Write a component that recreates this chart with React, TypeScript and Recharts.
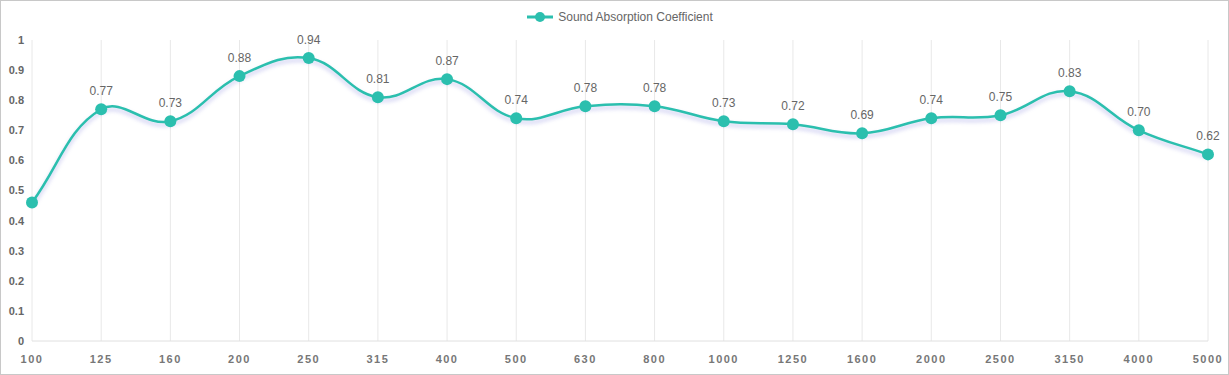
import React from 'react';
import { LineChart, Line, XAxis, YAxis, CartesianGrid, Legend, LabelList } from 'recharts';

const frequencies = ['100','125','160','200','250','315','400','500','630','800','1000','1250','1600','2000','2500','3150','4000','5000'];
const coefficients = [0.46,0.77,0.73,0.88,0.94,0.81,0.87,0.74,0.78,0.78,0.73,0.72,0.69,0.74,0.75,0.83,0.70,0.62];
const yTicks = [0,0.1,0.2,0.3,0.4,0.5,0.6,0.7,0.8,0.9,1];
const seriesName = 'Sound Absorption Coefficient';

const data = frequencies.map((f, i) => ({ freq: f, value: coefficients[i] }));

const COLOR = '#2bbfae';

// Chart.js style spline with tension 0.4
function tensionCurve(context: any) {
  let pts: number[][] = [];
  const t = 0.4;
  return {
    areaStart() {},
    areaEnd() {},
    lineStart() { pts = []; },
    point(x: number, y: number) { pts.push([+x, +y]); },
    lineEnd() {
      const n = pts.length;
      if (!n) return;
      const cps: number[][] = pts.map((cur, i) => {
        const prev = pts[Math.max(0, i - 1)];
        const next = pts[Math.min(n - 1, i + 1)];
        const d01 = Math.hypot(cur[0] - prev[0], cur[1] - prev[1]);
        const d12 = Math.hypot(next[0] - cur[0], next[1] - cur[1]);
        let s01 = d01 / (d01 + d12);
        let s12 = d12 / (d01 + d12);
        if (!isFinite(s01)) s01 = 0;
        if (!isFinite(s12)) s12 = 0;
        const fa = t * s01;
        const fb = t * s12;
        return [
          cur[0] - fa * (next[0] - prev[0]), cur[1] - fa * (next[1] - prev[1]),
          cur[0] + fb * (next[0] - prev[0]), cur[1] + fb * (next[1] - prev[1]),
        ];
      });
      context.moveTo(pts[0][0], pts[0][1]);
      for (let i = 1; i < n; i++) {
        const a = cps[i - 1];
        const b = cps[i];
        context.bezierCurveTo(a[2], a[3], b[0], b[1], pts[i][0], pts[i][1]);
      }
    },
  };
}

const renderLegend = () => (
  <div style={{ height: 30, display: 'flex', justifyContent: 'center', alignItems: 'flex-start', paddingLeft: 20, boxSizing: 'border-box' }}>
    <div style={{ display: 'flex', alignItems: 'center', height: 14, fontFamily: '"Liberation Sans", Arial, sans-serif', fontSize: 12, color: '#666' }}>
      <svg width={26} height={10} style={{ marginRight: 5 }}>
        <line x1={0} y1={5} x2={26} y2={5} stroke={COLOR} strokeWidth={3} />
        <circle cx={13} cy={5} r={5} fill={COLOR} />
      </svg>
      <span>{seriesName}</span>
    </div>
  </div>
);

const renderLabel = (props: any) => {
  const { x, y, value, index } = props;
  if (index === 0) return null;
  return (
    <text x={x} y={y - 14} textAnchor="middle" fill="#666" fontSize={12} fontFamily='"Liberation Sans", Arial, sans-serif'>
      {Number(value).toFixed(2)}
    </text>
  );
};

export default function App() {
  return (
    <div style={{ position: 'absolute', left: 0, top: 0, width: 1229, height: 375, border: '1px solid #c8c8c8', boxSizing: 'border-box', background: '#fff' }}>
      <style>{`.recharts-line-curve { filter: drop-shadow(0px 3px 2px rgba(90,90,210,0.35)); }`}</style>
      <LineChart width={1227} height={373} data={data} margin={{ top: 9, right: 20, bottom: 3, left: 11 }}>
        <CartesianGrid horizontal={false} stroke="#e8e8e8" />
        <XAxis
          dataKey="freq"
          interval={0}
          tickLine={false}
          axisLine={{ stroke: '#e0e0e0' }}
          height={30}
          tickMargin={8}
          tick={{ fill: '#777', fontSize: 11, fontWeight: 'bold', fontFamily: '"Liberation Sans", Arial, sans-serif', letterSpacing: 1.5 }}
        />
        <YAxis
          domain={[0, 1]}
          ticks={yTicks}
          width={20}
          tickLine={false}
          axisLine={false}
          tickMargin={2}
          tick={{ fill: '#666', fontSize: 11, fontWeight: 'bold', fontFamily: '"Liberation Sans", Arial, sans-serif' }}
        />
        <Legend verticalAlign="top" content={renderLegend} />
        <Line
          name={seriesName}
          dataKey="value"
          type={tensionCurve as any}
          stroke={COLOR}
          strokeWidth={2.5}
          dot={{ r: 6, fill: COLOR, stroke: COLOR, strokeWidth: 0 }}
          activeDot={false}
          isAnimationActive={false}
        >
          <LabelList dataKey="value" content={renderLabel} />
        </Line>
      </LineChart>
    </div>
  );
}
